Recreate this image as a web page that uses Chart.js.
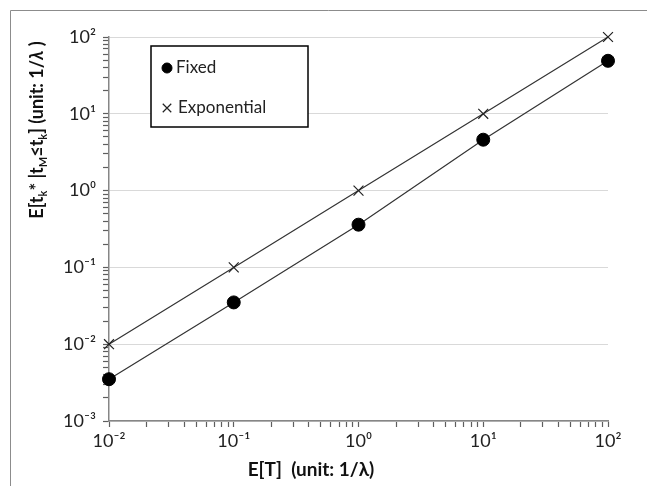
<!DOCTYPE html>
<html>
<head>
<meta charset="utf-8">
<script src="https://cdn.jsdelivr.net/npm/chart.js@4/dist/chart.umd.min.js"></script>
<style>
  html, body { margin: 0; padding: 0; background: #fff; }
  #wrap { position: relative; width: 647px; height: 486px; }
</style>
</head>
<body>
<div id="wrap"><canvas id="chart" width="647" height="486"></canvas></div>
<script>
// values
const xValues = [0.01, 0.1, 1, 10, 100];
const fixedValues = [0.0035, 0.035, 0.36, 4.6, 49];
const exponentialValues = [0.01, 0.1, 1, 10, 100];
const seriesNames = ['Fixed', 'Exponential'];
const xTitle = 'E[T]  (unit: 1/λ)';
// y title pieces: [text, kind]  kind: n = normal, s = subscript, i = italic
const yTitleParts = [['E[t', 'n'], ['k', 's'], ['* |t', 'n'], ['M', 's'], ['≤t', 'n'], ['k', 's'], ['] (unit: 1/', 'n'], ['λ', 'i'], [' )', 'n']];
const yExpRange = [-3, 2];
const xExpRange = [-2, 2];

const FONT = 'Lato, "Open Sans", "DejaVu Sans", sans-serif';
const AXIS = '#868686';
const TICK = '#5e5e5e';
const SUP = { '-': '⁻', '0': '⁰', '1': '¹', '2': '²', '3': '³', '4': '⁴', '5': '⁵', '6': '⁶', '7': '⁷', '8': '⁸', '9': '⁹' };

function isDecade(v) {
  const e = Math.log10(v);
  return Math.abs(e - Math.round(e)) < 1e-6;
}
function powLabel(v) {
  if (!isDecade(v)) return '';
  return '10' + String(Math.round(Math.log10(v))).split('').map(c => SUP[c]).join('');
}
// 1..9 x 10^e tick marks between two decades
function logTicks(range) {
  return scale => {
    const t = [];
    for (let e = range[0]; e <= range[1]; e++) {
      for (let m = 1; m <= 9; m++) {
        if (e === range[1] && m > 1) break;
        t.push({ value: +(m * Math.pow(10, e)).toPrecision(3) });
      }
    }
    scale.ticks = t;
  };
}

const extras = {
  id: 'extras',
  beforeDraw(chart) {
    const c = chart.ctx;
    c.save();
    c.strokeStyle = '#8c8c8c';
    c.lineWidth = 1;
    c.beginPath();
    c.moveTo(10.5, 486);
    c.lineTo(10.5, 10.5);
    c.lineTo(647, 10.5);
    c.stroke();
    c.restore();
  },
  afterDraw(chart) {
    const c = chart.ctx;
    c.save();
    c.fillStyle = '#111';
    // x title
    c.font = 'bold 19px ' + FONT;
    c.textAlign = 'center';
    c.textBaseline = 'middle';
    c.fillText(xTitle, 311, 470);

    // y title with subscripts
    const fonts = { n: 'bold 18px ' + FONT, s: 'bold 11px ' + FONT, i: 'italic bold 18px ' + FONT };
    let total = 0;
    const widths = yTitleParts.map(([t, k]) => { c.font = fonts[k]; const w = c.measureText(t).width; total += w; return w; });
    c.translate(37, 130);
    c.rotate(-Math.PI / 2);
    c.textAlign = 'left';
    c.textBaseline = 'alphabetic';
    let x = -total / 2;
    yTitleParts.forEach(([t, k], i) => {
      c.font = fonts[k];
      c.fillText(t, x, k === 's' ? 10 : 6);
      x += widths[i];
    });
    c.restore();

    // legend box
    c.save();
    c.fillStyle = '#fff';
    c.fillRect(151, 46, 157, 81);
    c.strokeStyle = '#000';
    c.lineWidth = 1.5;
    c.strokeRect(151, 46, 157, 81);
    const ds = chart.data.datasets;
    const rows = [68, 108];
    ds.forEach((d, i) => {
      c.fillStyle = d.pointBackgroundColor;
      c.strokeStyle = d.pointBorderColor;
      c.lineWidth = d.pointBorderWidth;
      Chart.helpers.drawPoint(c, { pointStyle: d.pointStyle, radius: i === 0 ? 5 : 6, borderWidth: d.pointBorderWidth, rotation: 0 }, 167, rows[i]);
      c.fillStyle = '#222';
      c.font = '17px ' + FONT;
      c.textAlign = 'left';
      c.textBaseline = 'middle';
      c.fillText(d.label, i === 0 ? 176 : 178, rows[i]);
    });
    c.restore();
  }
};

new Chart(document.getElementById('chart'), {
  type: 'scatter',
  data: {
    datasets: [
      {
        label: seriesNames[0],
        data: xValues.map((x, i) => ({ x, y: fixedValues[i] })),
        showLine: true,
        borderColor: '#333',
        borderWidth: 1.2,
        pointStyle: 'circle',
        pointRadius: 6.5,
        pointBackgroundColor: '#000',
        pointBorderColor: '#000',
        pointBorderWidth: 1,
        clip: false
      },
      {
        label: seriesNames[1],
        data: xValues.map((x, i) => ({ x, y: exponentialValues[i] })),
        showLine: true,
        borderColor: '#333',
        borderWidth: 1.2,
        pointStyle: 'crossRot',
        pointRadius: 7,
        pointBackgroundColor: '#222',
        pointBorderColor: '#222',
        pointBorderWidth: 1.2,
        clip: false
      }
    ]
  },
  options: {
    responsive: false,
    animation: false,
    layout: { padding: { left: 10, top: 37, right: 39, bottom: 0 } },
    plugins: { legend: { display: false }, tooltip: { enabled: false } },
    scales: {
      x: {
        type: 'logarithmic',
        min: Math.pow(10, xExpRange[0]),
        max: Math.pow(10, xExpRange[1]),
        afterBuildTicks: logTicks(xExpRange),
        afterFit: s => { s.height = 65; },
        border: { color: AXIS, width: 1.5 },
        grid: { drawOnChartArea: false, color: TICK, tickColor: TICK, tickWidth: 1.2, tickLength: 6 },
        ticks: {
          autoSkip: false, maxRotation: 0, padding: 3,
          color: '#222', font: { family: FONT, size: 18 },
          callback: v => powLabel(v)
        }
      },
      y: {
        type: 'logarithmic',
        min: Math.pow(10, yExpRange[0]),
        max: Math.pow(10, yExpRange[1]),
        afterBuildTicks: logTicks(yExpRange),
        afterFit: s => { s.width = 99; },
        border: { color: AXIS, width: 1.5 },
        grid: {
          color: ctx => (ctx.tick && isDecade(ctx.tick.value)) ? '#d9d9d9' : 'rgba(0,0,0,0)',
          tickColor: TICK, tickWidth: 1.2, tickLength: 6
        },
        ticks: {
          autoSkip: false, padding: 7,
          color: '#222', font: { family: FONT, size: 18 },
          callback: v => powLabel(v)
        }
      }
    }
  },
  plugins: [extras]
});
</script>
</body>
</html>
